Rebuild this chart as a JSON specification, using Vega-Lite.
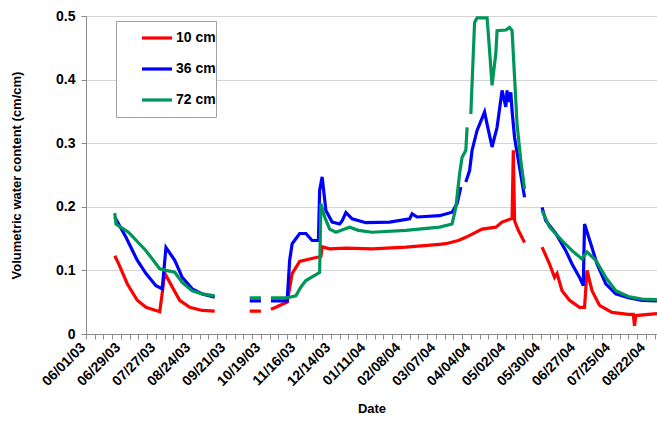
{
  "$schema": "https://vega.github.io/schema/vega-lite/v6.json",
  "autosize": {"type": "none"},
  "width": 571,
  "height": 318,
  "padding": {"left": 86, "top": 16, "right": 0, "bottom": 87},
  "background": "white",
  "config": {
    "view": {"stroke": null},
    "font": "Liberation Sans",
    "axis": {
      "labelFont": "Liberation Sans",
      "labelFontWeight": "bold",
      "labelFontSize": 14,
      "labelColor": "#000000",
      "titleFont": "Liberation Sans",
      "titleFontWeight": "bold",
      "titleFontSize": 13,
      "titleColor": "#000000",
      "domainColor": "#8c8c8c",
      "tickColor": "#8c8c8c",
      "tickSize": 5
    }
  },
  "data": {
    "values": [
      {"date": "2003-06-24", "depth": "10 cm", "v": 0.123},
      {"date": "2003-06-27", "depth": "10 cm", "v": 0.111},
      {"date": "2003-07-04", "depth": "10 cm", "v": 0.079},
      {"date": "2003-07-12", "depth": "10 cm", "v": 0.053},
      {"date": "2003-07-19", "depth": "10 cm", "v": 0.042},
      {"date": "2003-07-30", "depth": "10 cm", "v": 0.035},
      {"date": "2003-08-01", "depth": "10 cm", "v": 0.064},
      {"date": "2003-08-03", "depth": "10 cm", "v": 0.096},
      {"date": "2003-08-09", "depth": "10 cm", "v": 0.074},
      {"date": "2003-08-15", "depth": "10 cm", "v": 0.053},
      {"date": "2003-08-23", "depth": "10 cm", "v": 0.042},
      {"date": "2003-09-02", "depth": "10 cm", "v": 0.037},
      {"date": "2003-09-12", "depth": "10 cm", "v": 0.036},
      {"date": "2003-09-20", "depth": "10 cm", "v": null},
      {"date": "2003-10-10", "depth": "10 cm", "v": 0.036},
      {"date": "2003-10-19", "depth": "10 cm", "v": 0.036},
      {"date": "2003-10-23", "depth": "10 cm", "v": null},
      {"date": "2003-10-27", "depth": "10 cm", "v": 0.039},
      {"date": "2003-10-31", "depth": "10 cm", "v": 0.042},
      {"date": "2003-11-02", "depth": "10 cm", "v": 0.044},
      {"date": "2003-11-09", "depth": "10 cm", "v": 0.050},
      {"date": "2003-11-13", "depth": "10 cm", "v": 0.095},
      {"date": "2003-11-19", "depth": "10 cm", "v": 0.114},
      {"date": "2003-11-27", "depth": "10 cm", "v": 0.118},
      {"date": "2003-12-04", "depth": "10 cm", "v": 0.121},
      {"date": "2003-12-06", "depth": "10 cm", "v": 0.122},
      {"date": "2003-12-07", "depth": "10 cm", "v": 0.137},
      {"date": "2003-12-13", "depth": "10 cm", "v": 0.134},
      {"date": "2003-12-26", "depth": "10 cm", "v": 0.135},
      {"date": "2004-01-16", "depth": "10 cm", "v": 0.134},
      {"date": "2004-02-12", "depth": "10 cm", "v": 0.1365},
      {"date": "2004-03-10", "depth": "10 cm", "v": 0.141},
      {"date": "2004-03-15", "depth": "10 cm", "v": 0.142},
      {"date": "2004-03-25", "depth": "10 cm", "v": 0.147},
      {"date": "2004-03-31", "depth": "10 cm", "v": 0.152},
      {"date": "2004-04-13", "depth": "10 cm", "v": 0.165},
      {"date": "2004-04-24", "depth": "10 cm", "v": 0.168},
      {"date": "2004-04-29", "depth": "10 cm", "v": 0.176},
      {"date": "2004-05-06", "depth": "10 cm", "v": 0.181},
      {"date": "2004-05-07", "depth": "10 cm", "v": 0.182},
      {"date": "2004-05-08", "depth": "10 cm", "v": 0.289},
      {"date": "2004-05-09", "depth": "10 cm", "v": 0.178},
      {"date": "2004-05-12", "depth": "10 cm", "v": 0.163},
      {"date": "2004-05-17", "depth": "10 cm", "v": 0.144},
      {"date": "2004-05-24", "depth": "10 cm", "v": null},
      {"date": "2004-05-31", "depth": "10 cm", "v": 0.1365},
      {"date": "2004-06-06", "depth": "10 cm", "v": 0.110},
      {"date": "2004-06-10", "depth": "10 cm", "v": 0.089},
      {"date": "2004-06-12", "depth": "10 cm", "v": 0.095},
      {"date": "2004-06-16", "depth": "10 cm", "v": 0.068},
      {"date": "2004-06-22", "depth": "10 cm", "v": 0.053},
      {"date": "2004-06-30", "depth": "10 cm", "v": 0.042},
      {"date": "2004-07-04", "depth": "10 cm", "v": 0.042},
      {"date": "2004-07-06", "depth": "10 cm", "v": 0.100},
      {"date": "2004-07-10", "depth": "10 cm", "v": 0.068},
      {"date": "2004-07-16", "depth": "10 cm", "v": 0.045},
      {"date": "2004-07-26", "depth": "10 cm", "v": 0.034},
      {"date": "2004-08-08", "depth": "10 cm", "v": 0.031},
      {"date": "2004-08-12", "depth": "10 cm", "v": 0.031},
      {"date": "2004-08-13", "depth": "10 cm", "v": 0.013},
      {"date": "2004-08-14", "depth": "10 cm", "v": 0.029},
      {"date": "2004-08-31", "depth": "10 cm", "v": 0.032},

      {"date": "2003-06-24", "depth": "36 cm", "v": 0.184},
      {"date": "2003-07-03", "depth": "36 cm", "v": 0.152},
      {"date": "2003-07-12", "depth": "36 cm", "v": 0.116},
      {"date": "2003-07-19", "depth": "36 cm", "v": 0.095},
      {"date": "2003-07-27", "depth": "36 cm", "v": 0.076},
      {"date": "2003-08-01", "depth": "36 cm", "v": 0.071},
      {"date": "2003-08-04", "depth": "36 cm", "v": 0.136},
      {"date": "2003-08-11", "depth": "36 cm", "v": 0.116},
      {"date": "2003-08-17", "depth": "36 cm", "v": 0.089},
      {"date": "2003-08-25", "depth": "36 cm", "v": 0.071},
      {"date": "2003-09-02", "depth": "36 cm", "v": 0.063},
      {"date": "2003-09-12", "depth": "36 cm", "v": 0.058},
      {"date": "2003-09-20", "depth": "36 cm", "v": null},
      {"date": "2003-10-10", "depth": "36 cm", "v": 0.052},
      {"date": "2003-10-19", "depth": "36 cm", "v": 0.052},
      {"date": "2003-10-23", "depth": "36 cm", "v": null},
      {"date": "2003-10-27", "depth": "36 cm", "v": 0.052},
      {"date": "2003-11-09", "depth": "36 cm", "v": 0.052},
      {"date": "2003-11-11", "depth": "36 cm", "v": 0.116},
      {"date": "2003-11-13", "depth": "36 cm", "v": 0.142},
      {"date": "2003-11-19", "depth": "36 cm", "v": 0.158},
      {"date": "2003-11-24", "depth": "36 cm", "v": 0.158},
      {"date": "2003-11-29", "depth": "36 cm", "v": 0.147},
      {"date": "2003-12-04", "depth": "36 cm", "v": 0.147},
      {"date": "2003-12-05", "depth": "36 cm", "v": 0.226},
      {"date": "2003-12-07", "depth": "36 cm", "v": 0.247},
      {"date": "2003-12-10", "depth": "36 cm", "v": 0.194},
      {"date": "2003-12-15", "depth": "36 cm", "v": 0.176},
      {"date": "2003-12-21", "depth": "36 cm", "v": 0.173},
      {"date": "2003-12-23", "depth": "36 cm", "v": 0.178},
      {"date": "2003-12-26", "depth": "36 cm", "v": 0.191},
      {"date": "2003-12-31", "depth": "36 cm", "v": 0.181},
      {"date": "2004-01-11", "depth": "36 cm", "v": 0.175},
      {"date": "2004-01-30", "depth": "36 cm", "v": 0.176},
      {"date": "2004-02-15", "depth": "36 cm", "v": 0.181},
      {"date": "2004-02-17", "depth": "36 cm", "v": 0.189},
      {"date": "2004-02-21", "depth": "36 cm", "v": 0.184},
      {"date": "2004-03-10", "depth": "36 cm", "v": 0.186},
      {"date": "2004-03-20", "depth": "36 cm", "v": 0.1915},
      {"date": "2004-03-24", "depth": "36 cm", "v": 0.205},
      {"date": "2004-03-27", "depth": "36 cm", "v": 0.231},
      {"date": "2004-03-29", "depth": "36 cm", "v": null},
      {"date": "2004-03-31", "depth": "36 cm", "v": 0.239},
      {"date": "2004-04-03", "depth": "36 cm", "v": 0.257},
      {"date": "2004-04-05", "depth": "36 cm", "v": 0.289},
      {"date": "2004-04-09", "depth": "36 cm", "v": 0.320},
      {"date": "2004-04-15", "depth": "36 cm", "v": 0.349},
      {"date": "2004-04-17", "depth": "36 cm", "v": 0.330},
      {"date": "2004-04-21", "depth": "36 cm", "v": 0.294},
      {"date": "2004-04-25", "depth": "36 cm", "v": 0.325},
      {"date": "2004-04-29", "depth": "36 cm", "v": 0.383},
      {"date": "2004-05-02", "depth": "36 cm", "v": 0.357},
      {"date": "2004-05-03", "depth": "36 cm", "v": 0.383},
      {"date": "2004-05-04", "depth": "36 cm", "v": 0.365},
      {"date": "2004-05-06", "depth": "36 cm", "v": 0.380},
      {"date": "2004-05-07", "depth": "36 cm", "v": 0.351},
      {"date": "2004-05-09", "depth": "36 cm", "v": 0.309},
      {"date": "2004-05-13", "depth": "36 cm", "v": 0.262},
      {"date": "2004-05-17", "depth": "36 cm", "v": 0.215},
      {"date": "2004-05-24", "depth": "36 cm", "v": null},
      {"date": "2004-05-31", "depth": "36 cm", "v": 0.199},
      {"date": "2004-06-03", "depth": "36 cm", "v": 0.178},
      {"date": "2004-06-11", "depth": "36 cm", "v": 0.158},
      {"date": "2004-06-19", "depth": "36 cm", "v": 0.131},
      {"date": "2004-06-24", "depth": "36 cm", "v": 0.110},
      {"date": "2004-06-30", "depth": "36 cm", "v": 0.089},
      {"date": "2004-07-03", "depth": "36 cm", "v": 0.076},
      {"date": "2004-07-04", "depth": "36 cm", "v": 0.173},
      {"date": "2004-07-09", "depth": "36 cm", "v": 0.142},
      {"date": "2004-07-14", "depth": "36 cm", "v": 0.110},
      {"date": "2004-07-21", "depth": "36 cm", "v": 0.079},
      {"date": "2004-07-29", "depth": "36 cm", "v": 0.063},
      {"date": "2004-08-08", "depth": "36 cm", "v": 0.057},
      {"date": "2004-08-19", "depth": "36 cm", "v": 0.053},
      {"date": "2004-08-31", "depth": "36 cm", "v": 0.052},

      {"date": "2003-06-24", "depth": "72 cm", "v": 0.190},
      {"date": "2003-06-25", "depth": "72 cm", "v": 0.173},
      {"date": "2003-07-05", "depth": "72 cm", "v": 0.160},
      {"date": "2003-07-19", "depth": "72 cm", "v": 0.131},
      {"date": "2003-07-30", "depth": "72 cm", "v": 0.1025},
      {"date": "2003-08-04", "depth": "72 cm", "v": 0.100},
      {"date": "2003-08-11", "depth": "72 cm", "v": 0.097},
      {"date": "2003-08-17", "depth": "72 cm", "v": 0.081},
      {"date": "2003-08-25", "depth": "72 cm", "v": 0.068},
      {"date": "2003-09-02", "depth": "72 cm", "v": 0.063},
      {"date": "2003-09-12", "depth": "72 cm", "v": 0.060},
      {"date": "2003-09-20", "depth": "72 cm", "v": null},
      {"date": "2003-10-10", "depth": "72 cm", "v": 0.057},
      {"date": "2003-10-19", "depth": "72 cm", "v": 0.057},
      {"date": "2003-10-23", "depth": "72 cm", "v": null},
      {"date": "2003-10-27", "depth": "72 cm", "v": 0.057},
      {"date": "2003-11-09", "depth": "72 cm", "v": 0.057},
      {"date": "2003-11-16", "depth": "72 cm", "v": 0.060},
      {"date": "2003-11-20", "depth": "72 cm", "v": 0.074},
      {"date": "2003-11-24", "depth": "72 cm", "v": 0.084},
      {"date": "2003-12-01", "depth": "72 cm", "v": 0.092},
      {"date": "2003-12-05", "depth": "72 cm", "v": 0.097},
      {"date": "2003-12-06", "depth": "72 cm", "v": 0.205},
      {"date": "2003-12-09", "depth": "72 cm", "v": 0.184},
      {"date": "2003-12-13", "depth": "72 cm", "v": 0.165},
      {"date": "2003-12-18", "depth": "72 cm", "v": 0.160},
      {"date": "2003-12-25", "depth": "72 cm", "v": 0.165},
      {"date": "2003-12-29", "depth": "72 cm", "v": 0.168},
      {"date": "2004-01-05", "depth": "72 cm", "v": 0.163},
      {"date": "2004-01-16", "depth": "72 cm", "v": 0.160},
      {"date": "2004-02-12", "depth": "72 cm", "v": 0.163},
      {"date": "2004-03-10", "depth": "72 cm", "v": 0.168},
      {"date": "2004-03-20", "depth": "72 cm", "v": 0.173},
      {"date": "2004-03-23", "depth": "72 cm", "v": 0.199},
      {"date": "2004-03-26", "depth": "72 cm", "v": 0.252},
      {"date": "2004-03-28", "depth": "72 cm", "v": 0.278},
      {"date": "2004-03-31", "depth": "72 cm", "v": 0.289},
      {"date": "2004-04-01", "depth": "72 cm", "v": 0.325},
      {"date": "2004-04-02", "depth": "72 cm", "v": null},
      {"date": "2004-04-04", "depth": "72 cm", "v": 0.346},
      {"date": "2004-04-07", "depth": "72 cm", "v": 0.490},
      {"date": "2004-04-09", "depth": "72 cm", "v": 0.497},
      {"date": "2004-04-17", "depth": "72 cm", "v": 0.497},
      {"date": "2004-04-19", "depth": "72 cm", "v": 0.446},
      {"date": "2004-04-21", "depth": "72 cm", "v": 0.391},
      {"date": "2004-04-24", "depth": "72 cm", "v": 0.441},
      {"date": "2004-04-25", "depth": "72 cm", "v": 0.477},
      {"date": "2004-05-02", "depth": "72 cm", "v": 0.478},
      {"date": "2004-05-05", "depth": "72 cm", "v": 0.482},
      {"date": "2004-05-07", "depth": "72 cm", "v": 0.477},
      {"date": "2004-05-09", "depth": "72 cm", "v": 0.404},
      {"date": "2004-05-11", "depth": "72 cm", "v": 0.330},
      {"date": "2004-05-14", "depth": "72 cm", "v": 0.273},
      {"date": "2004-05-17", "depth": "72 cm", "v": 0.228},
      {"date": "2004-05-24", "depth": "72 cm", "v": null},
      {"date": "2004-05-31", "depth": "72 cm", "v": 0.194},
      {"date": "2004-06-06", "depth": "72 cm", "v": 0.168},
      {"date": "2004-06-16", "depth": "72 cm", "v": 0.147},
      {"date": "2004-06-24", "depth": "72 cm", "v": 0.131},
      {"date": "2004-07-02", "depth": "72 cm", "v": 0.118},
      {"date": "2004-07-06", "depth": "72 cm", "v": 0.129},
      {"date": "2004-07-13", "depth": "72 cm", "v": 0.116},
      {"date": "2004-07-21", "depth": "72 cm", "v": 0.089},
      {"date": "2004-07-29", "depth": "72 cm", "v": 0.068},
      {"date": "2004-08-08", "depth": "72 cm", "v": 0.059},
      {"date": "2004-08-19", "depth": "72 cm", "v": 0.055},
      {"date": "2004-08-31", "depth": "72 cm", "v": 0.054}
    ]
  },
  "mark": {"type": "line", "strokeWidth": 3.2, "clip": true},
  "encoding": {
    "x": {
      "field": "date",
      "type": "temporal",
      "scale": {
        "type": "utc",
        "domain": [
          {"year": 2003, "month": 6, "date": 1, "utc": true},
          {"year": 2004, "month": 8, "date": 31, "utc": true}
        ]
      },
      "axis": {
        "title": "Date",
        "grid": false,
        "tickCount": {"interval": "week", "step": 1},
        "labelExpr": "(time(datum.value) - 1054425600000) % 2419200000 == 0 ? utcFormat(datum.value, '%m/%d/%y') : ''",
        "labelAngle": -45,
        "labelBaseline": "middle",
        "labelOverlap": false,
        "labelFlush": false,
        "labelBound": false,
        "labelPadding": 6,
        "labelOffset": -3,
        "titlePadding": 14
      }
    },
    "y": {
      "field": "v",
      "type": "quantitative",
      "scale": {"domain": [0, 0.5], "nice": false, "zero": true},
      "axis": {
        "title": "Volumetric water content (cm/cm)",
        "values": [0, 0.1, 0.2, 0.3, 0.4, 0.5],
        "format": ".1~f",
        "grid": true,
        "gridColor": "#d4d4d4",
        "gridWidth": 1,
        "labelPadding": 6,
        "titlePadding": 32
      }
    },
    "color": {
      "field": "depth",
      "type": "nominal",
      "scale": {"domain": ["10 cm", "36 cm", "72 cm"], "range": ["#ff0000", "#0000ff", "#00965a"]},
      "legend": {
        "orient": "none",
        "legendX": 30,
        "legendY": 5,
        "title": " ",
        "titleOrient": "bottom",
        "titleFontSize": 8,
        "titlePadding": 2,
        "symbolType": "stroke",
        "symbolSize": 900,
        "symbolStrokeWidth": 3.2,
        "labelFont": "Liberation Sans",
        "labelFontSize": 14,
        "labelFontWeight": "bold",
        "labelColor": "#000000",
        "labelOffset": 2,
        "labelExpr": "datum.label + '     '",
        "padding": 0,
        "rowPadding": 7,
        "symbolOffset": 24,
        "strokeColor": "#a0a0a0",
        "fillColor": "#ffffff"
      }
    }
  }
}
